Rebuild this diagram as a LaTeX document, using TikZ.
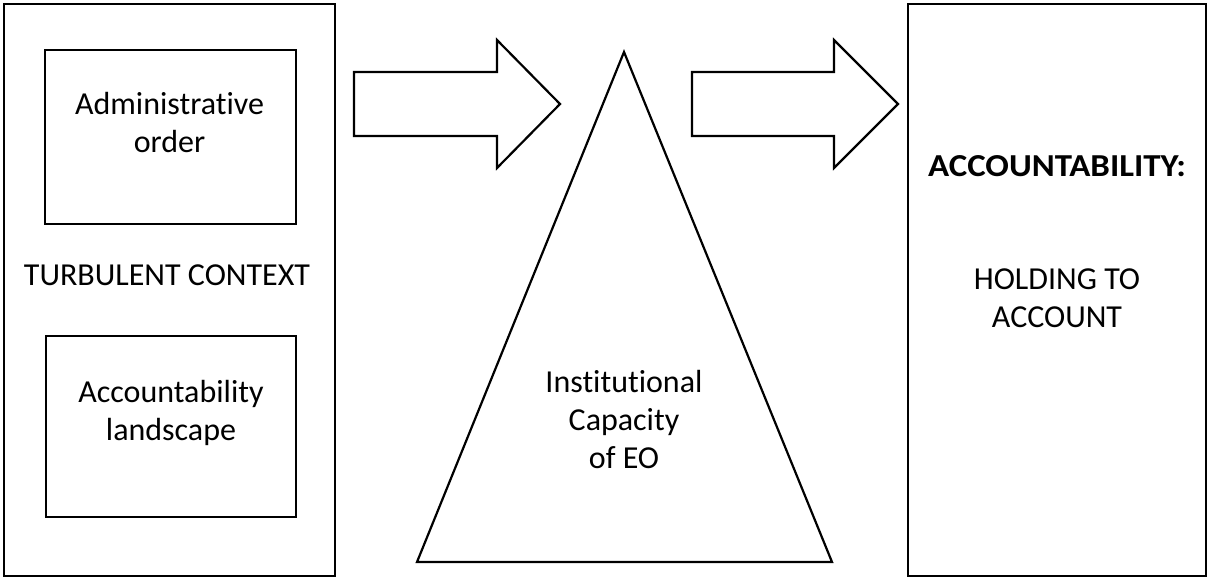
\documentclass[tikz,border=0pt]{standalone}
\usepackage{fontspec}
\setmainfont[Ligatures={NoCommon}]{Carlito}
\begin{document}
\begin{tikzpicture}[x=1pt,y=-1pt,
  outline/.style={draw=black,line width=2.2pt,line join=miter},
  lbl/.style={inner sep=0pt,align=center,anchor=base,font=\fontsize{32}{38}\selectfont}]
\useasboundingbox[fill=white] (0,0) rectangle (1208,578);
% boxes
\draw[outline] (4,4) rectangle (335,576);
\draw[outline] (45,50) rectangle (296,224);
\draw[outline] (46,336) rectangle (296,517);
\draw[outline] (908,4) rectangle (1206,576);
% block arrows
\draw[outline] (354,72) -- (497,72) -- (497,40) -- (560,104) -- (497,168) -- (497,136) -- (354,136) -- cycle;
\draw[outline] (692,72) -- (834,72) -- (834,40) -- (898,104) -- (834,168) -- (834,136) -- (692,136) -- cycle;
% triangle
\draw[outline] (624,52) -- (832,562) -- (417,562) -- cycle;
% texts (base anchor = baseline of last line)
\node[lbl] (admin) at (169.5,152) {Administrative\\order};
\node[lbl] (turb) at (167,285) {TURBULENT CONTEXT};
\node[lbl] (land) at (171,440) {Accountability\\landscape};
\node[lbl] (inst) at (624,468) {Institutional\\Capacity\\of EO};
\node[lbl,font=\fontsize{32}{38}\selectfont\bfseries] (acc) at (1057,176) {\scalebox{1.09}[1]{ACCOUNTABILITY:}};
\node[lbl] (hold) at (1057,327) {HOLDING TO\\ACCOUNT};
\end{tikzpicture}
\end{document}
